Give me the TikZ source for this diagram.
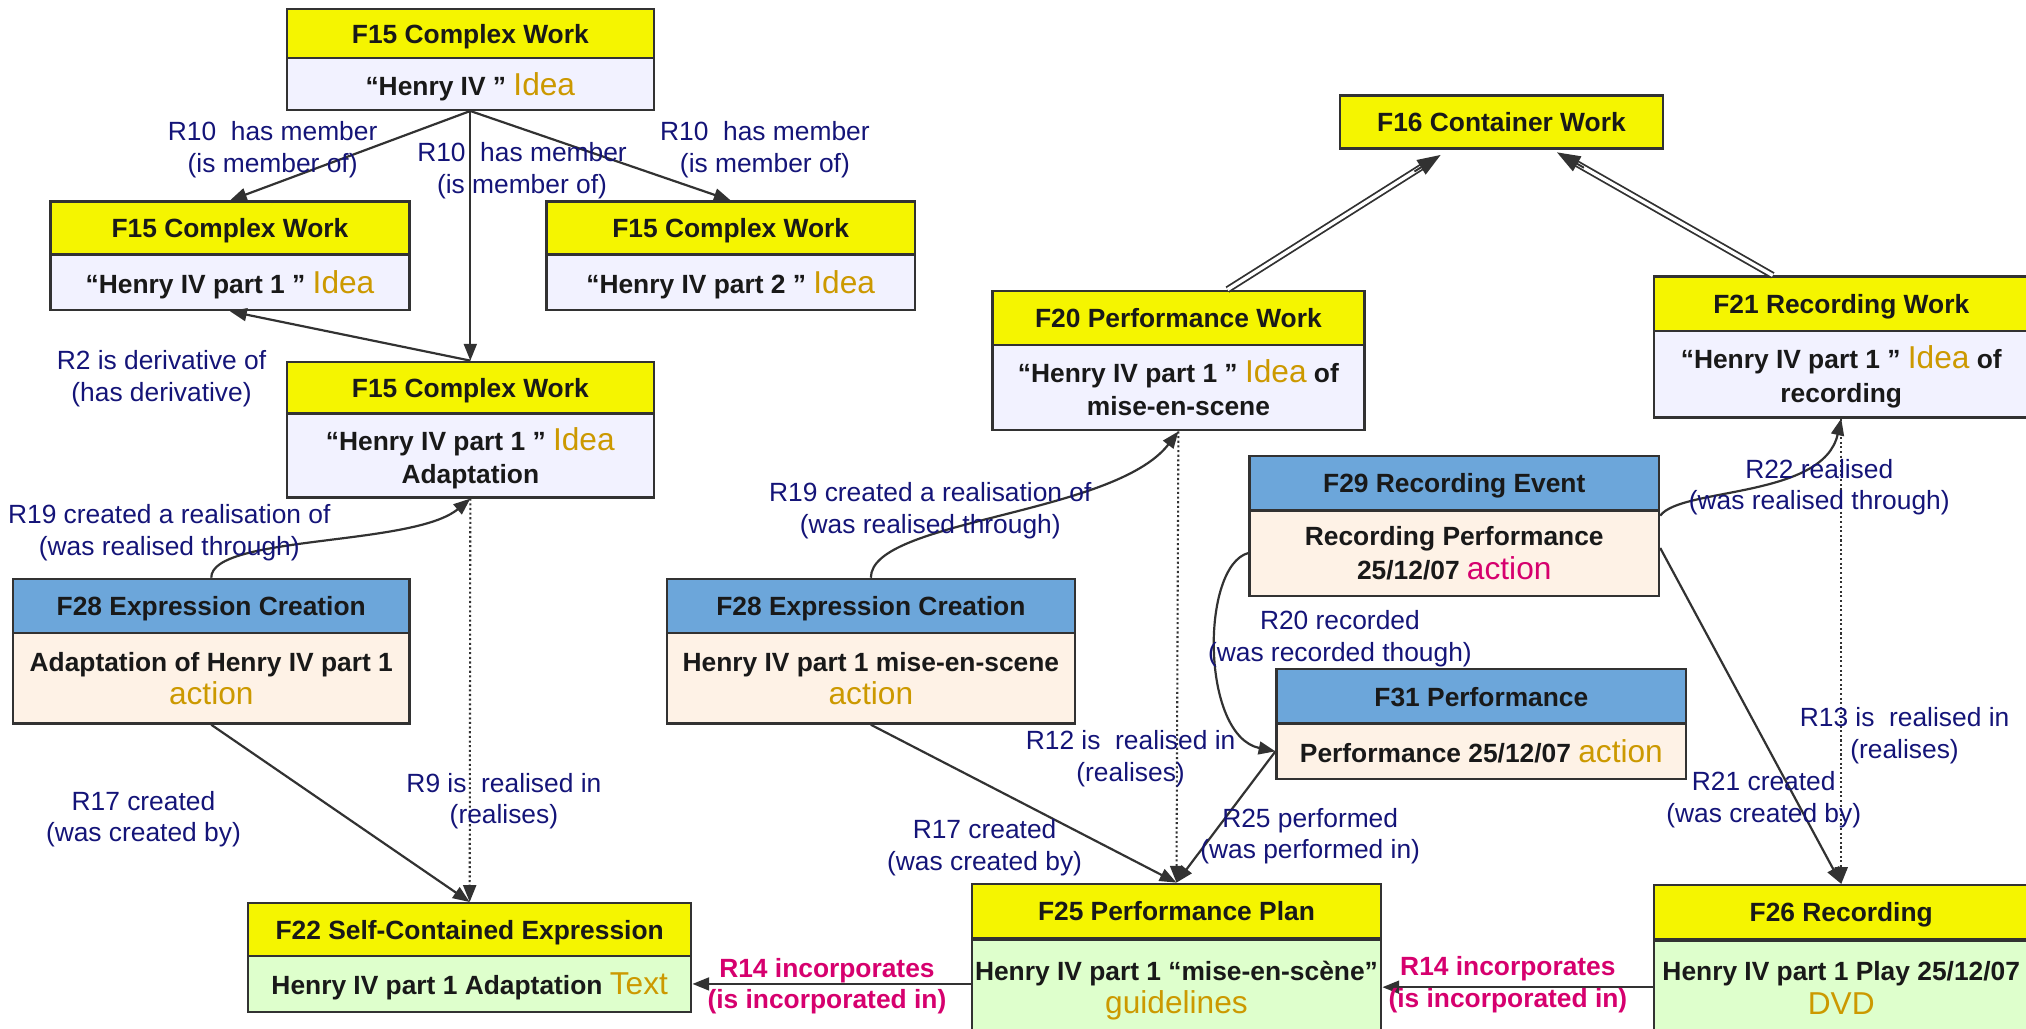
\documentclass[tikz,border=0pt]{standalone}
\usepackage{fontspec}
\setmainfont{Liberation Sans}
\usetikzlibrary{arrows.meta,calc}
\definecolor{hyel}{RGB}{245,245,0}
\definecolor{hblue}{RGB}{108,166,218}
\definecolor{blav}{RGB}{242,242,255}
\definecolor{bpeach}{RGB}{254,242,230}
\definecolor{bgreen}{RGB}{222,255,204}
\definecolor{goldc}{RGB}{204,153,0}
\definecolor{magc}{RGB}{214,0,110}
\definecolor{navyc}{RGB}{20,20,120}
\definecolor{edgec}{RGB}{50,50,50}
\definecolor{txtc}{RGB}{25,25,25}
\newcommand\gw[1]{{\color{goldc}\mdseries\fontsize{24.5pt}{26pt}\selectfont #1}}
\newcommand\mw[1]{{\color{magc}\mdseries\fontsize{24.5pt}{26pt}\selectfont #1}}
\begin{document}
\begin{tikzpicture}[x=1pt,y=-1pt,
  base/.style={draw=edgec, line width=1.8pt, inner sep=0pt, align=center, text=txtc, text depth=0pt,
    font=\bfseries\fontsize{20.4pt}{26pt}\selectfont},
  hy/.style={base, fill=hyel},
  hb/.style={base, fill=hblue},
  bl/.style={base, fill=blav},
  bp/.style={base, fill=bpeach},
  bg/.style={base, fill=bgreen},
  lab/.style={inner sep=0pt, align=center, text=navyc, text depth=0pt, font=\fontsize{20.4pt}{24.5pt}\selectfont},
  mlab/.style={inner sep=0pt, align=center, text=magc, text depth=0pt, font=\bfseries\fontsize{20.4pt}{24.5pt}\selectfont},
  arr/.style={draw=edgec, line width=1.7pt, -{Triangle[length=13pt,width=10pt]}},
  darr/.style={draw=edgec, line width=1.6pt, dotted, -{Triangle[length=13pt,width=10pt]}},
  dbl/.style={draw=edgec, line width=1.4pt, double=white, double distance=2.6pt, shorten >=14pt},
  dtip/.style={draw=edgec, line width=1.5pt, -{Triangle[length=18pt,width=13pt]}}
]
\useasboundingbox (0,0) rectangle (1568,796);

% ---- boxes ----
\node[hy, minimum width=284pt, minimum height=38pt] (Ah) at (364,26) {F15 Complex Work};
\node[bl, minimum width=284pt, minimum height=40pt] (Ab) at (364,65) {“Henry IV ” \gw{Idea}};

\node[hy, minimum width=278pt, minimum height=41pt] (Bh) at (178,176.5) {F15 Complex Work};
\node[bl, minimum width=278pt, minimum height=43pt] (Bb) at (178,218.5) {“Henry IV part 1 ” \gw{Idea}};

\node[hy, minimum width=285pt, minimum height=41pt] (Ch) at (565.5,176.5) {F15 Complex Work};
\node[bl, minimum width=285pt, minimum height=43pt] (Cb) at (565.5,218.5) {“Henry IV part 2 ” \gw{Idea}};

\node[hy, minimum width=284pt, minimum height=40pt] (Dh) at (364,300) {F15 Complex Work};
\node[bl, minimum width=284pt, minimum height=65pt] (Db) at (364,352.5) {“Henry IV part 1 ” \gw{Idea}\\Adaptation};

\node[hb, minimum width=307pt, minimum height=42pt] (Eh) at (163.5,469) {F28 Expression Creation};
\node[bp, minimum width=307pt, minimum height=70pt] (Eb) at (163.5,525) {Adaptation of Henry IV part 1\\\gw{action}};

\node[hy, minimum width=343pt, minimum height=41pt] (Fh) at (363.5,719.5) {F22 Self-Contained Expression};
\node[bg, minimum width=343pt, minimum height=43pt] (Fb) at (363.5,761.5) {Henry IV part 1 Adaptation \gw{Text}};

\node[hy, minimum width=250pt, minimum height=41pt] (G) at (1162,94.5) {F16 Container Work};

\node[hy, minimum width=288pt, minimum height=42pt] (Hh) at (912,246) {F20 Performance Work};
\node[bl, minimum width=288pt, minimum height=66pt] (Hb) at (912,300) {“Henry IV part 1 ” \gw{Idea} of\\mise-en-scene};

\node[hy, minimum width=290pt, minimum height=42pt] (Ih) at (1425,235) {F21 Recording Work};
\node[bl, minimum width=290pt, minimum height=67pt] (Ib) at (1425,289.5) {“Henry IV part 1 ” \gw{Idea} of\\recording};

\node[hb, minimum width=317pt, minimum height=42pt] (Jh) at (1125.5,374) {F29 Recording Event};
\node[bp, minimum width=317pt, minimum height=66pt] (Jb) at (1125.5,428) {Recording Performance\\25/12/07 \mw{action}};

\node[hb, minimum width=316pt, minimum height=42pt] (Kh) at (674,469) {F28 Expression Creation};
\node[bp, minimum width=316pt, minimum height=70pt] (Kb) at (674,525) {Henry IV part 1 mise-en-scene\\\gw{action}};

\node[hb, minimum width=317pt, minimum height=42pt] (Lh) at (1146.5,539) {F31 Performance};
\node[bp, minimum width=317pt, minimum height=43pt] (Lb) at (1146.5,581.5) {Performance 25/12/07 \gw{action}};

\node[hy, minimum width=317pt, minimum height=42pt] (Mh) at (910.5,705) {F25 Performance Plan};
\node[bg, minimum width=317pt, minimum height=74pt] (Mb) at (910.5,764) {Henry IV part 1 “mise-en-scène”\\\gw{guidelines}};

\node[hy, minimum width=290pt, minimum height=42pt] (Nh) at (1425,706) {F26 Recording};
\node[bg, minimum width=290pt, minimum height=73pt] (Nb) at (1425,764.5) {Henry IV part 1 Play 25/12/07\\\gw{DVD}};

% ---- connectors ----
\draw[arr] (Ab.south) -- (Bh.north);
\draw[arr] (Ab.south) -- (Ch.north);
\draw[arr] (Ab.south) -- (Dh.north);
\draw[arr] (Dh.north) -- (Bb.south);
\draw[arr] (Eh.north) .. controls +(0,-33) and +(-44,37) .. (Db.south);
\draw[arr] (Eb.south) -- (Fh.north);
\draw[darr] (Db.south) -- (Fh.north);
\draw[arr] (Mb.west |- Fb.east) -- (Fb.east);
\draw[arr] (Nb.west |- Mb.east) -- (Mb.east);

\coordinate (d1s) at ([xshift=38pt]Hh.north);
\coordinate (d1e) at ([xshift=-47pt,yshift=-4pt]G.south);
\coordinate (d2s) at ([xshift=-53pt]Ih.north);
\coordinate (d2e) at ([xshift=43pt,yshift=-2pt]G.south);
\draw[dbl] (d1s) -- (d1e);
\draw[dtip] ($(d1e)!24pt!(d1s)$) -- (d1e);
\draw[dbl] (d2s) -- (d2e);
\draw[dtip] ($(d2e)!24pt!(d2s)$) -- (d2e);

\draw[arr] (Kh.north) .. controls +(0,-45) and +(-50,65) .. (Hb.south);
\draw[arr] (Kb.south) -- (Mh.north);
\draw[darr] (Hb.south) -- (Mh.north);
\draw[arr] (Lb.west) -- (Mh.north);
\draw[arr] (Jb.west) .. controls +(-37,10) and +(-58,-12) .. (Lb.west);
\draw[arr] ([yshift=-5pt]Jb.north east) .. controls +(16,-22) and +(-14,62) .. (Ib.south);
\draw[arr] ([yshift=-30pt]Jb.north east) -- (Nh.north);
\draw[darr] (Ib.south) -- (Nh.north);

% ---- labels ----
\node[lab] (l1) at (211,113.5) {R10\ \ has member\\(is member of)};
\node[lab] (l2) at (404,130) {R10\ \ has member\\(is member of)};
\node[lab] (l3) at (592,113.5) {R10\ \ has member\\(is member of)};
\node[lab] (l4) at (125,291) {R2 is derivative of\\(has derivative)};
\node[lab] (l5) at (131,410) {R19 created a realisation of\\(was realised through)};
\node[lab] (l6) at (111,632) {R17 created\\(was created by)};
\node[lab] (l7) at (390,618) {R9 is\ \ realised in\\(realises)};
\node[mlab] (l8) at (640,761) {R14 incorporates\\(is incorporated in)};
\node[mlab] (l9) at (1167,760) {R14 incorporates\\(is incorporated in)};
\node[lab] (l10) at (720,393) {R19 created a realisation of\\(was realised through)};
\node[lab] (l11) at (762,654) {R17 created\\(was created by)};
\node[lab] (l12) at (875,585) {R12 is\ \ realised in\\(realises)};
\node[lab] (l13) at (1014,645) {R25 performed\\(was performed in)};
\node[lab] (l14) at (1037,492) {R20 recorded\\(was recorded though)};
\node[lab] (l15) at (1408,375) {R22 realised\\(was realised through)};
\node[lab] (l16) at (1474,567) {R13 is\ \ realised in\\(realises)};
\node[lab] (l17) at (1365,617) {R21 created\\(was created by)};
\end{tikzpicture}
\end{document}
